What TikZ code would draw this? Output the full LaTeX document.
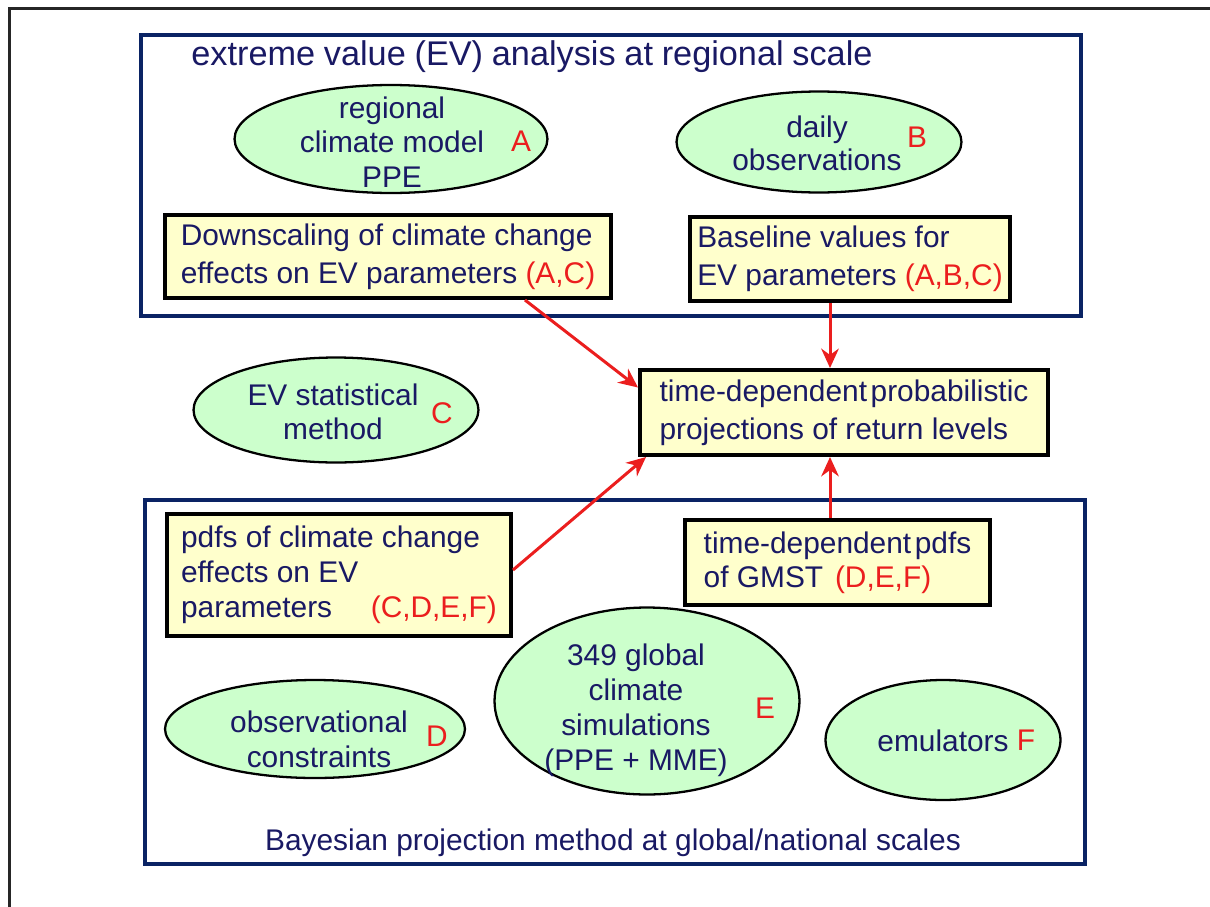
\documentclass[tikz,border=0pt]{standalone}
\usepackage{fontspec}
\setmainfont{Liberation Sans}
\usetikzlibrary{shapes.geometric,arrows.meta,calc}
\definecolor{navytext}{RGB}{25,25,100}
\definecolor{frameblue}{RGB}{10,35,100}
\definecolor{evred}{RGB}{235,30,30}
\definecolor{evgreen}{RGB}{204,255,204}
\definecolor{evyellow}{RGB}{255,255,204}
\newcommand{\wsp}{\hspace{5pt}}
\begin{document}
\begin{tikzpicture}[x=0.02cm,y=-0.02cm,
  every node/.style={font=\fontsize{17}{20}\selectfont},
  ell/.style={ellipse, draw=black, line width=1.3pt, fill=evgreen, inner sep=0pt},
  etext/.style={align=center, text=navytext, inner sep=0pt, font=\fontsize{17}{19.5}\selectfont},
  ybox/.style={rectangle, draw=black, line width=2.3pt, fill=evyellow, align=left, text=navytext, inner sep=0pt, font=\fontsize{17}{21.5}\selectfont},
  lbl/.style={text=evred, inner sep=0pt},
  ttl/.style={text=navytext, inner sep=0pt},
  blueframe/.style={draw=frameblue, line width=2.4pt},
  arr/.style={draw=evred, line width=1.7pt, -{Stealth[length=11pt,width=10pt]}}
]
\useasboundingbox (0,0) rectangle (1210,906);
\fill[white] (0,0) rectangle (1210,906);
% outer frame
\draw[black!85, line width=1.7pt] (9.5,8.5) rectangle (1250,950);
% regional and global frames
\draw[blueframe] (141,35) rectangle (1081,316);
\draw[blueframe] (145,500) rectangle (1085,864);
% titles
\node[ttl, font=\fontsize{19.5}{20}\selectfont] (toptitle) at (532,57) {extreme\wsp value\wsp (EV)\wsp analysis\wsp at\wsp regional\wsp scale};
\node[ttl] (bottitle) at (613,843) {Bayesian projection method at global/national scales};
% ellipses
\node[ell, minimum width=6.26cm, minimum height=2.16cm] (A) at (391,139) {};
\node[etext] (At) at (392,142) {regional\\climate model\\PPE};
\node[lbl] (Al) at (521,141) {A};

\node[ell, minimum width=5.7cm, minimum height=2.02cm] (B) at (819,142) {};
\node[etext, font=\fontsize{17}{18.7}\selectfont] (Bt) at (817,143.5) {daily\\observations};
\node[lbl] (Bl) at (917,137) {B};

\node[ell, minimum width=5.7cm, minimum height=2.1cm] (C) at (336,410) {};
\node[etext] (Ct) at (333,412) {EV statistical\\method};
\node[lbl] (Cl) at (442,413) {C};

\node[ell, minimum width=6.0cm, minimum height=1.96cm] (D) at (315,729) {};
\node[etext, font=\fontsize{17}{20}\selectfont] (Dt) at (319,739) {observational\\constraints};
\node[lbl] (Dl) at (437,736) {D};

\node[ell, minimum width=6.1cm, minimum height=3.74cm] (E) at (647,701) {};
\node[etext, font=\fontsize{17}{20}\selectfont] (Et) at (636,710) {349 global\\climate\\simulations\\(PPE + MME)};
\node[lbl] (El) at (765,708) {E};

\node[ell, minimum width=4.7cm, minimum height=2.4cm] (F) at (943,740) {};
\node[etext] (Ft) at (943,741) {emulators};
\node[lbl] (Fl) at (1026,740) {F};
% boxes
\node[ybox, minimum width=8.92cm, minimum height=1.66cm] (D1) at (388,256.5)
  {Downscaling of climate change\\effects on EV parameters \textcolor{evred}{(A,C)}};
\node[ybox, minimum width=6.4cm, minimum height=1.68cm] (Base) at (850,259)
  {Baseline values for\\EV parameters \textcolor{evred}{(A,B,C)}};
\node[ybox, minimum width=8.16cm, minimum height=1.7cm] (Prob) at (844,412.5)
  {time-dependent\hspace{0.12em}probabilistic\\projections of return levels};
\node[ybox, minimum width=6.88cm, minimum height=2.44cm, font=\fontsize{17}{20}\selectfont] (pdfs) at (339,575)
  {pdfs of climate change\\effects on EV\\parameters\hspace{22pt}\textcolor{evred}{(C,D,E,F)}};
\node[ybox, minimum width=6.1cm, minimum height=1.7cm, font=\fontsize{17}{19.5}\selectfont] (tpdfs) at (837.5,562.5)
  {time-dependent\hspace{0.12em}pdfs\\of GMST \hspace{2pt}\textcolor{evred}{(D,E,F)}};
% connectors
\coordinate (s1) at ([xshift=2.74cm]D1.south);
\draw[arr] (s1) -- ([yshift=0.5cm]Prob.west);
\coordinate (s2) at ([xshift=-0.4cm]Base.south);
\draw[arr] (s2) -- (s2 |- Prob.north);
\draw[arr] ([yshift=0.1cm]pdfs.east) -- ([xshift=0.16cm]Prob.south west);
\coordinate (s4) at ([xshift=-0.15cm]tpdfs.north);
\draw[arr] (s4) -- (s4 |- Prob.south);
\end{tikzpicture}
\end{document}
